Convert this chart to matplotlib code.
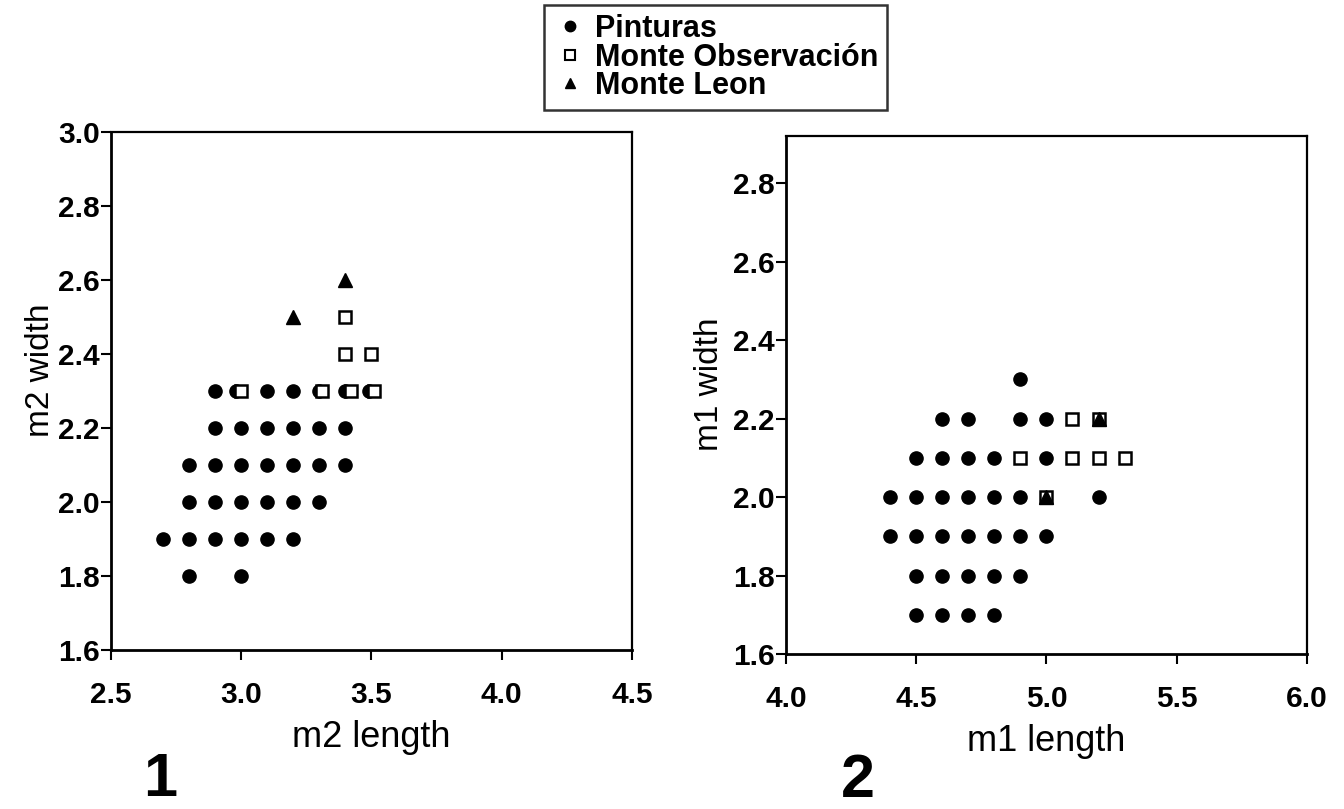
import matplotlib.pyplot as plt
from matplotlib.lines import Line2D

plt.rcParams['font.family'] = ['Liberation Sans', 'DejaVu Sans']

# plot 1 : m2
pint_m2_len = [2.9, 2.98, 3.1, 3.2, 3.3, 3.4, 3.49,
               2.9, 3.0, 3.1, 3.2, 3.3, 3.4,
               2.8, 2.9, 3.0, 3.1, 3.2, 3.3, 3.4,
               2.8, 2.9, 3.0, 3.1, 3.2, 3.3,
               2.7, 2.8, 2.9, 3.0, 3.1, 3.2,
               2.8, 3.0]
pint_m2_wid = [2.3, 2.3, 2.3, 2.3, 2.3, 2.3, 2.3,
               2.2, 2.2, 2.2, 2.2, 2.2, 2.2,
               2.1, 2.1, 2.1, 2.1, 2.1, 2.1, 2.1,
               2.0, 2.0, 2.0, 2.0, 2.0, 2.0,
               1.9, 1.9, 1.9, 1.9, 1.9, 1.9,
               1.8, 1.8]
obs_m2_len = [3.0, 3.31, 3.42, 3.51, 3.4, 3.5, 3.4]
obs_m2_wid = [2.3, 2.3, 2.3, 2.3, 2.4, 2.4, 2.5]
leon_m2_len = [3.2, 3.4]
leon_m2_wid = [2.5, 2.6]

# plot 2 : m1
pint_m1_len = [4.9,
               4.6, 4.7, 4.9, 5.0,
               4.5, 4.6, 4.7, 4.8, 5.0,
               4.4, 4.5, 4.6, 4.7, 4.8, 4.9, 5.2,
               4.4, 4.5, 4.6, 4.7, 4.8, 4.9, 5.0,
               4.5, 4.6, 4.7, 4.8, 4.9,
               4.5, 4.6, 4.7, 4.8]
pint_m1_wid = [2.3,
               2.2, 2.2, 2.2, 2.2,
               2.1, 2.1, 2.1, 2.1, 2.1,
               2.0, 2.0, 2.0, 2.0, 2.0, 2.0, 2.0,
               1.9, 1.9, 1.9, 1.9, 1.9, 1.9, 1.9,
               1.8, 1.8, 1.8, 1.8, 1.8,
               1.7, 1.7, 1.7, 1.7]
obs_m1_len = [5.1, 5.2, 4.9, 5.1, 5.2, 5.3, 5.0]
obs_m1_wid = [2.2, 2.2, 2.1, 2.1, 2.1, 2.1, 2.0]
leon_m1_len = [5.2, 5.0]
leon_m1_wid = [2.2, 2.0]

labels = ["Pinturas", "Monte Observación", "Monte Leon"]


def draw_panel(ax, pl, pw, ol, ow, ll, lw, xlim, ylim, xticks, yticks, xlab, ylab, ylab_pos):
    ax.plot(pl, pw, 'o', color='black', markersize=9.5, linestyle='none')
    ax.plot(ol, ow, 's', markerfacecolor='white', markeredgecolor='black',
            markeredgewidth=1.8, markersize=8.5, linestyle='none')
    ax.plot(ll, lw, '^', color='black', markersize=10.5, linestyle='none')
    ax.set_xlim(xlim)
    ax.set_ylim(ylim)
    ax.set_xticks(xticks)
    ax.set_yticks(yticks)
    ax.set_xticklabels(["%.1f" % v for v in xticks], fontweight='bold', fontsize=21.5)
    ax.set_yticklabels(["%.1f" % v for v in yticks], fontweight='bold', fontsize=21.5)
    ax.tick_params(axis='x', direction='out', length=7, width=1.5, pad=15)
    ax.tick_params(axis='y', direction='out', length=7, width=1.5, pad=1)
    ax.set_xlabel(xlab, fontsize=26, labelpad=8)
    ax.set_ylabel(ylab, fontsize=24)
    ax.yaxis.set_label_coords(*ylab_pos)
    for s in ['left', 'bottom']:
        ax.spines[s].set_linewidth(2)
    for s in ['top', 'right']:
        ax.spines[s].set_linewidth(1.6)


fig = plt.figure(figsize=(13.44, 8.09), dpi=100)
ax1 = fig.add_axes([0.0826, 0.1965, 0.3876, 0.6403])
ax2 = fig.add_axes([0.5848, 0.1916, 0.3876, 0.6403])

draw_panel(ax1, pint_m2_len, pint_m2_wid, obs_m2_len, obs_m2_wid, leon_m2_len, leon_m2_wid,
           (2.5, 4.5), (1.6, 3.0), [2.5, 3.0, 3.5, 4.0, 4.5],
           [1.6, 1.8, 2.0, 2.2, 2.4, 2.6, 2.8, 3.0], "m2 length", "m2 width", (-0.105, 0.54))
draw_panel(ax2, pint_m1_len, pint_m1_wid, obs_m1_len, obs_m1_wid, leon_m1_len, leon_m1_wid,
           (4.0, 6.0), (1.6, 2.92), [4.0, 4.5, 5.0, 5.5, 6.0],
           [1.6, 1.8, 2.0, 2.2, 2.4, 2.6, 2.8], "m1 length", "m1 width", (-0.117, 0.52))

handles = [Line2D([], [], marker='o', color='black', linestyle='none', markersize=7.5),
           Line2D([], [], marker='s', markerfacecolor='white', markeredgecolor='black',
                  markeredgewidth=1.5, linestyle='none', markersize=6.5),
           Line2D([], [], marker='^', color='black', linestyle='none', markersize=7.5)]
leg = fig.legend(handles, labels, loc='upper left', bbox_to_anchor=(544 / 1344, 1 - 5 / 809),
                 prop={'weight': 'bold', 'size': 22}, frameon=True, fancybox=False,
                 handlelength=1.1, handletextpad=0.26, labelspacing=-0.05,
                 borderpad=0.3, borderaxespad=0)
leg.get_frame().set_edgecolor('black')
leg.get_frame().set_linewidth(1.8)

fig.text(160 / 1344, 1 - 796 / 809, "1", fontsize=44, fontweight='bold', ha='center', va='baseline')
fig.text(858 / 1344, 1 - 797 / 809, "2", fontsize=44, fontweight='bold', ha='center', va='baseline')

plt.savefig("out.png", dpi=100)
